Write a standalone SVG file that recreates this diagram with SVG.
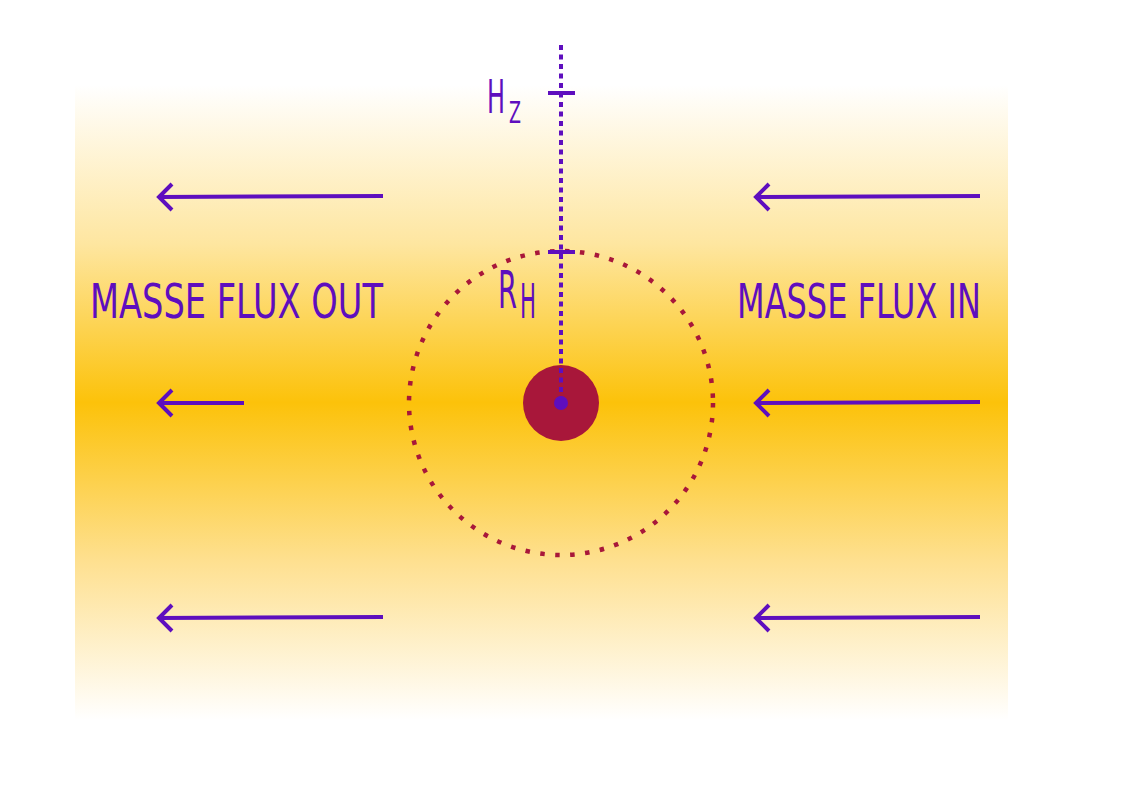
<svg xmlns="http://www.w3.org/2000/svg" width="1123" height="794" viewBox="0 0 1123 794">
<defs>
<linearGradient id="bg" x1="0" y1="85" x2="0" y2="720" gradientUnits="userSpaceOnUse">
<stop offset="0" stop-color="#FFFFFF"/>
<stop offset="0.25" stop-color="#FEE6A0"/>
<stop offset="0.5" stop-color="#FCC20A"/>
<stop offset="0.75" stop-color="#FEE090"/>
<stop offset="1" stop-color="#FFFFFF"/>
</linearGradient>
<style>
.arr{fill:none;stroke:#5E0EBE;stroke-width:4;stroke-linecap:butt}
.head{fill:none;stroke:#5E0EBE;stroke-width:4;stroke-linejoin:miter}
.lbl{font-family:"DejaVu Sans Condensed","DejaVu Sans",sans-serif;fill:#5E0EBE;font-stretch:condensed}
</style>
</defs>
<rect x="75" y="85" width="933" height="635" fill="url(#bg)"/>
<g id="orbit">
<circle cx="561" cy="403" r="152" fill="none" stroke="#A8173A" stroke-width="4.5" stroke-dasharray="4.5 10.5"/>
</g>
<g id="body">
<circle cx="561" cy="403" r="38" fill="#A8173A"/>
</g>
<g id="connectors">
<line x1="561" y1="45" x2="561" y2="403" stroke="#5E0EBE" stroke-width="4" stroke-dasharray="5 4.5"/>
<line x1="548" y1="93" x2="575" y2="93" stroke="#5E0EBE" stroke-width="4"/>
<line x1="548" y1="252" x2="575" y2="252" stroke="#5E0EBE" stroke-width="4"/>
<circle cx="561" cy="403" r="7" fill="#5E0EBE"/>
<g id="arrows-out">
<line class="arr" x1="383" y1="196" x2="159" y2="197"/>
<polyline class="head" points="172,184 159,197 172,210"/>
<line class="arr" x1="244" y1="403" x2="159" y2="403"/>
<polyline class="head" points="172,390 159,403 172,416"/>
<line class="arr" x1="383" y1="617" x2="159" y2="618"/>
<polyline class="head" points="172,605 159,618 172,631"/>
</g>
<g id="arrows-in">
<line class="arr" x1="980" y1="196" x2="756" y2="197"/>
<polyline class="head" points="769,184 756,197 769,210"/>
<line class="arr" x1="980" y1="402" x2="756" y2="403"/>
<polyline class="head" points="769,390 756,403 769,416"/>
<line class="arr" x1="980" y1="617" x2="756" y2="618"/>
<polyline class="head" points="769,605 756,618 769,631"/>
</g>
</g>
<g id="label-out">
<text class="lbl" x="90" y="318" font-size="48" textLength="293" lengthAdjust="spacingAndGlyphs">MASSE FLUX OUT</text>
</g>
<g id="label-in">
<text class="lbl" x="737" y="318" font-size="48" textLength="244" lengthAdjust="spacingAndGlyphs">MASSE FLUX IN</text>
</g>
<g id="label-hz">
<text class="lbl" x="487" y="113" font-size="46"><tspan textLength="18" lengthAdjust="spacingAndGlyphs">H</tspan><tspan x="509" y="123" font-size="31" textLength="12" lengthAdjust="spacingAndGlyphs">Z</tspan></text>
</g>
<g id="label-rh">
<text class="lbl" x="498" y="308" font-size="52"><tspan textLength="19" lengthAdjust="spacingAndGlyphs">R</tspan><tspan x="520" y="318" font-size="48" textLength="16" lengthAdjust="spacingAndGlyphs">H</tspan></text>
</g>
</svg>
